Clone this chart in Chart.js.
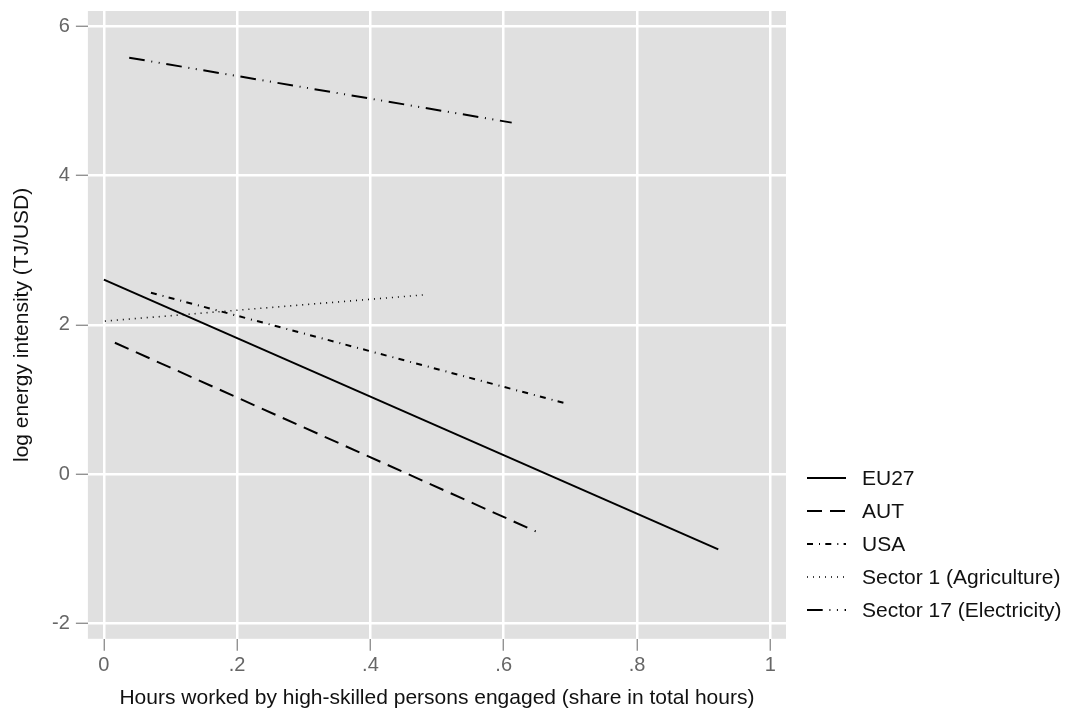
<!DOCTYPE html>
<html lang="en">
<head>
    <meta charset="UTF-8">
    <title>Energy intensity vs high-skilled hours</title>
    <script src="https://cdn.jsdelivr.net/npm/chart.js"></script>
    <style>
        body { margin: 0; background: #fff; }
        .chart-container { width: 1066px; height: 711px; }
    </style>
</head>
<body>
    <div class="chart-container">
        <canvas id="fitChart"></canvas>
    </div>
    <script>
        // fitted lines: two end points each
        const seriesNames = ['EU27', 'AUT', 'USA', 'Sector 1 (Agriculture)', 'Sector 17 (Electricity)'];
        const eu27X = [0.0, 0.922];
        const eu27Y = [2.605, -1.01];
        const autX = [0.0165, 0.648];
        const autY = [1.76, -0.768];
        const usaX = [0.0706, 0.691];
        const usaY = [2.43, 0.952];
        const sector1X = [0.0015, 0.4785];
        const sector1Y = [2.05, 2.40];
        const sector17X = [0.038, 0.612];
        const sector17Y = [5.58, 4.71];

        const xTickValues = [0, 0.2, 0.4, 0.6, 0.8, 1];
        const xTickLabels = ['0', '.2', '.4', '.6', '.8', '1'];
        const yTickValues = [-2, 0, 2, 4, 6];
        const yTickLabels = ['-2', '0', '2', '4', '6'];

        const FONT = "'Liberation Sans', Arial, Helvetica, sans-serif";

        function toPoints(xs, ys) {
            return xs.map((x, i) => ({ x: x, y: ys[i] }));
        }

        // grey panel behind the plot
        const panelBg = {
            id: 'panelBg',
            beforeDraw(chart) {
                const a = chart.chartArea;
                const ctx = chart.ctx;
                ctx.save();
                ctx.fillStyle = '#e0e0e0';
                ctx.fillRect(a.left, a.top, a.right - a.left, a.bottom - a.top);
                ctx.restore();
            }
        };

        // legend to the right of the panel, lines use the dataset styles
        const sideLegend = {
            id: 'sideLegend',
            afterDraw(chart) {
                const ctx = chart.ctx;
                const x0 = chart.chartArea.right + 21;
                chart.data.datasets.forEach((ds, i) => {
                    const y = 478 + i * 33;
                    ctx.save();
                    ctx.strokeStyle = ds.borderColor;
                    ctx.lineWidth = ds.borderWidth;
                    ctx.setLineDash(ds.borderDash || []);
                    ctx.beginPath();
                    ctx.moveTo(x0, y);
                    ctx.lineTo(x0 + 39, y);
                    ctx.stroke();
                    ctx.setLineDash([]);
                    ctx.fillStyle = '#111';
                    ctx.font = '21px ' + FONT;
                    ctx.textBaseline = 'middle';
                    ctx.fillText(ds.label, x0 + 55, y + 1);
                    ctx.restore();
                });
            }
        };

        function lineSet(i, xs, ys, dash, width) {
            return {
                label: seriesNames[i],
                data: toPoints(xs, ys),
                showLine: true,
                borderColor: '#000',
                borderWidth: width,
                borderDash: dash,
                borderCapStyle: 'butt',
                pointRadius: 0,
                fill: false
            };
        }

        const ctx = document.getElementById('fitChart').getContext('2d');
        const chart = new Chart(ctx, {
            type: 'scatter',
            data: {
                datasets: [
                    lineSet(0, eu27X, eu27Y, [], 2),
                    lineSet(1, autX, autY, [15, 8], 2),
                    lineSet(2, usaX, usaY, [6, 6, 1, 5.3], 2),
                    lineSet(3, sector1X, sector1Y, [1, 5], 1.6),
                    lineSet(4, sector17X, sector17Y, [15.7, 6.7, 1, 6.5, 1, 6.7], 2)
                ]
            },
            plugins: [panelBg, sideLegend],
            options: {
                responsive: true,
                maintainAspectRatio: false,
                animation: false,
                layout: {
                    padding: { left: 0, right: 280, top: 10, bottom: 0 }
                },
                plugins: {
                    legend: { display: false },
                    tooltip: { enabled: false }
                },
                scales: {
                    x: {
                        type: 'linear',
                        min: -0.024,
                        max: 1.0236,
                        afterBuildTicks: (scale) => {
                            scale.ticks = xTickValues.map(v => ({ value: v }));
                        },
                        ticks: {
                            padding: 3,
                            color: '#666',
                            font: { family: FONT, size: 20 },
                            maxRotation: 0,
                            callback: (v) => xTickLabels[xTickValues.indexOf(v)]
                        },
                        grid: {
                            color: '#fff',
                            lineWidth: 2.5,
                            tickColor: '#808080',
                            tickLength: 12,
                            tickWidth: 1.2
                        },
                        border: { display: false },
                        title: {
                            display: true,
                            text: 'Hours worked by high-skilled persons engaged (share in total hours)',
                            color: '#111',
                            font: { family: FONT, size: 21 },
                            padding: { top: 5, bottom: 0 }
                        }
                    },
                    y: {
                        type: 'linear',
                        min: -2.208,
                        max: 6.206,
                        afterBuildTicks: (scale) => {
                            scale.ticks = yTickValues.map(v => ({ value: v }));
                        },
                        ticks: {
                            padding: 6,
                            color: '#666',
                            font: { family: FONT, size: 20, lineHeight: 0.5 },
                            callback: (v) => yTickLabels[yTickValues.indexOf(v)]
                        },
                        grid: {
                            color: '#fff',
                            lineWidth: 2.5,
                            tickColor: '#808080',
                            tickLength: 12,
                            tickWidth: 1.2
                        },
                        border: { display: false },
                        title: {
                            display: true,
                            text: 'log energy intensity (TJ/USD)',
                            color: '#111',
                            font: { family: FONT, size: 21 },
                            padding: { top: 9.5, bottom: 11.4 }
                        }
                    }
                }
            }
        });
    </script>
</body>
</html>
